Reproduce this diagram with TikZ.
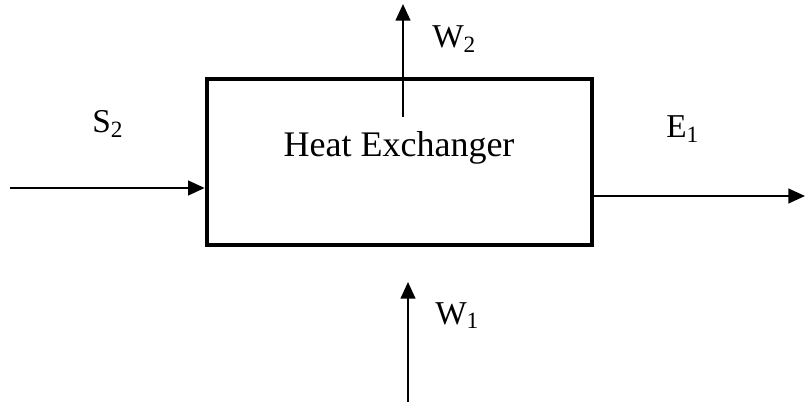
\documentclass[tikz,border=0pt]{standalone}
\usepackage{fontspec}
\setmainfont{Liberation Serif}
\usepackage{tikz}
\usetikzlibrary{arrows.meta, positioning}

\begin{document}
\begin{tikzpicture}[
  x=0.75pt, y=-0.75pt,
  hxbox/.style={rectangle, draw=black, line width=3.5pt,
              minimum width=288.75pt, minimum height=124.5pt},
  flow/.style={-{Triangle[length=12.5pt, width=11pt]}, line width=1.8pt},
  lbl/.style={inner sep=0pt, anchor=base west, font=\fontsize{25}{30}\selectfont}
]
\useasboundingbox (0,0) rectangle (805,402);

\node[hxbox] (hx) at (399.5,162) {};
\node[inner sep=0pt, anchor=base, font=\fontsize{27}{32}\selectfont] (title) at (399,157) {Heat Exchanger};

% streams
\coordinate (sin) at (10,188);
\coordinate (eout) at (805,196);
\coordinate (w2a) at (403,117);
\coordinate (w2b) at (403,4);
\coordinate (w1a) at (408,402);
\coordinate (w1b) at (408,282);

\draw[flow] (sin) -- (sin -| hx.west);
\draw[flow] (eout -| hx.east) -- (eout);
\draw[flow] (w2a) -- (w2b);
\draw[flow] (w1a) -- (w1b);

\node[lbl] (s2) at (92,133) {S\textsubscript{2}};
\node[lbl] (e1) at (666,138) {E\textsubscript{1}};
\node[lbl] (w2) at (432,48) {W\textsubscript{2}};
\node[lbl] (w1) at (435,324) {W\textsubscript{1}};

\end{tikzpicture}
\end{document}
